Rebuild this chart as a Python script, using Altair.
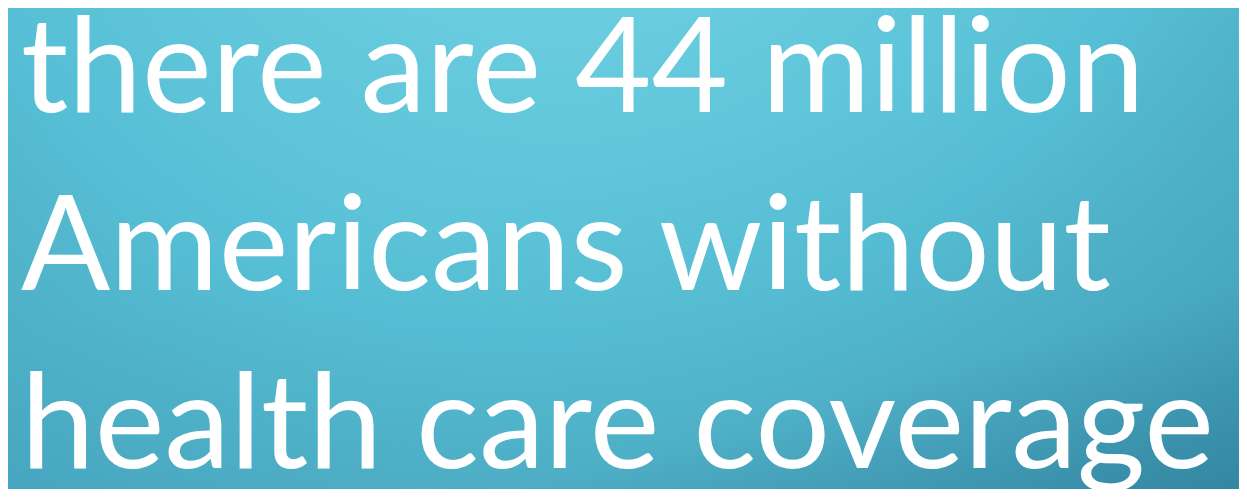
import altair as alt
import pandas as pd

# Text content, one entry per line
lines = [
    "there are 44 million",
    "Americans without",
    "health care coverage",
]
line_no = [1, 2, 3]

W, H = 1231, 481

text_df = pd.DataFrame({"line": line_no, "text": lines})
bg_df = pd.DataFrame({"k": [0]})

radial = {
    "gradient": "radial",
    "x1": 0.448, "y1": 0.054, "r1": 0,
    "x2": 0.448, "y2": 0.054, "r2": 1,
    "stops": [
        {"offset": 0.0, "color": "#74D3E4"},
        {"offset": 0.24, "color": "#6BCDE0"},
        {"offset": 0.52, "color": "#56BFD5"},
        {"offset": 0.64, "color": "#50B3CA"},
        {"offset": 0.78, "color": "#48A9C2"},
        {"offset": 1.0, "color": "#40A0BA"},
    ],
}

shade = {
    "gradient": "linear",
    "x1": 0.5, "y1": 0.3, "x2": 1, "y2": 1,
    "stops": [
        {"offset": 0.0, "color": "rgba(16,70,100,0)"},
        {"offset": 0.6, "color": "rgba(16,70,100,0.05)"},
        {"offset": 1.0, "color": "rgba(16,70,100,0.33)"},
    ],
}

bg = alt.Chart(bg_df).mark_rect(fill=radial, strokeWidth=0).encode(
    x=alt.value(0), x2=alt.value("width"), y=alt.value(0), y2=alt.value("height")
)
overlay = alt.Chart(bg_df).mark_rect(fill=shade, strokeWidth=0).encode(
    x=alt.value(0), x2=alt.value("width"), y=alt.value(0), y2=alt.value("height")
)

txt = alt.Chart(text_df).mark_text(
    font="Lato",
    fontSize=132,
    color="#FFFFFF",
    align="left",
    baseline="alphabetic",
).encode(
    x=alt.value(13),
    y=alt.Y("line:Q", scale=alt.Scale(domain=[1, 3], range=[104, 460]), axis=None),
    text="text:N",
)

chart = alt.layer(bg, overlay, txt).properties(
    width=W,
    height=H,
    padding=0,
    background="#55BBD2",
    autosize=alt.AutoSizeParams(type="none"),
).configure_view(stroke=None)

chart.save("out.html", embed_options={"renderer": "svg", "actions": False})
